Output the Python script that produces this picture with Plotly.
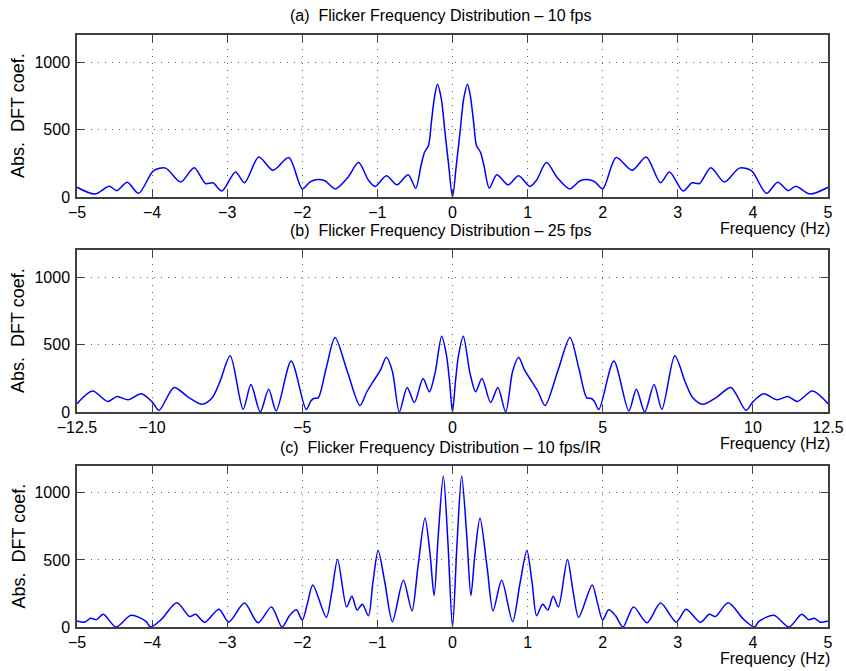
import plotly.graph_objects as go

# ---------------- data ----------------
# (a) 10 fps
freq_a = [-5.00, -4.76, -4.57, -4.47, -4.33, -4.18, -3.98, -3.82, -3.62, -3.44, -3.29, -3.19,
          -3.07, -2.89, -2.77, -2.58, -2.39, -2.18, -2.00, -1.90, -1.82, -1.70, -1.56, -1.40,
          -1.25, -1.12, -1.03, -0.88, -0.74, -0.59, -0.49, -0.42, -0.37, -0.32, -0.28, -0.24,
          -0.20, -0.15, -0.10, -0.05, 0.00,
          0.05, 0.10, 0.15, 0.20, 0.24, 0.28, 0.32, 0.37, 0.42, 0.49, 0.59, 0.74, 0.88, 1.03,
          1.12, 1.25, 1.40, 1.56, 1.70, 1.82, 1.90, 2.00, 2.18, 2.39, 2.58, 2.77, 2.89, 3.07,
          3.19, 3.29, 3.44, 3.62, 3.82, 3.98, 4.18, 4.33, 4.47, 4.57, 4.76, 5.00]
dft_a = [72, 22, 80, 47, 110, 27, 195, 214, 111, 217, 100, 105,
         44, 185, 105, 296, 198, 292, 60, 110, 128, 120, 60, 140,
         255, 125, 78, 158, 90, 165, 65, 230, 335, 380, 560, 740,
         835, 730, 480, 230, 0,
         230, 480, 730, 835, 740, 560, 380, 335, 230, 65, 165, 90, 158, 78,
         125, 255, 140, 60, 120, 128, 110, 60, 292, 198, 296, 105, 185, 44,
         105, 100, 217, 111, 214, 195, 27, 110, 47, 80, 22, 72]

# (b) 25 fps
freq_b = [-12.50, -11.98, -11.48, -11.16, -10.80, -10.36, -10.00, -9.77, -9.27, -8.80, -8.33,
          -8.00, -7.75, -7.40, -6.97, -6.71, -6.40, -6.12, -5.87, -5.37, -4.87, -4.72, -4.62,
          -4.47, -4.20, -3.91, -3.50, -3.08, -2.85, -2.64, -2.40, -2.20, -2.00, -1.77, -1.51,
          -1.27, -0.98, -0.77, -0.58, -0.36, -0.20, -0.10, 0.00,
          0.10, 0.20, 0.36, 0.58, 0.77, 0.98, 1.27, 1.51, 1.77, 2.00, 2.20, 2.40, 2.64, 2.85,
          3.08, 3.50, 3.91, 4.20, 4.47, 4.62, 4.72, 4.87, 5.37, 5.87, 6.12, 6.40, 6.71, 6.97,
          7.40, 7.75, 8.00, 8.33, 8.80, 9.27, 9.77, 10.00, 10.36, 10.80, 11.16, 11.48, 11.98, 12.50]
dft_b = [62, 155, 78, 115, 90, 135, 75, 12, 182, 110, 57,
         105, 220, 416, 20, 204, 0, 168, 8, 377, 18, 80, 100,
         105, 330, 552, 300, 48, 150, 225, 310, 405, 300, 0, 182,
         70, 248, 150, 290, 562, 420, 230, 0,
         230, 420, 562, 290, 150, 248, 70, 182, 0, 300, 405, 310, 225, 150,
         48, 300, 552, 330, 105, 100, 80, 18, 377, 8, 168, 0, 204, 20,
         416, 220, 105, 57, 110, 182, 12, 75, 135, 90, 115, 78, 155, 62]

# (c) 10 fps/IR
freq_c = [-5.00, -4.90, -4.82, -4.74, -4.65, -4.48, -4.28, -4.08, -4.02, -3.88, -3.67, -3.50,
          -3.42, -3.30, -3.11, -2.98, -2.77, -2.59, -2.41, -2.27, -2.17, -2.08, -2.00, -1.93,
          -1.86, -1.68, -1.61, -1.53, -1.41, -1.34, -1.27, -1.20, -1.12, -1.06, -0.99, -0.90,
          -0.80, -0.655, -0.54, -0.46, -0.366, -0.30, -0.245, -0.19, -0.122, -0.06, 0.00,
          0.06, 0.122, 0.19, 0.245, 0.30, 0.366, 0.46, 0.54, 0.655, 0.80, 0.90, 0.99, 1.06,
          1.12, 1.20, 1.27, 1.34, 1.41, 1.53, 1.61, 1.68, 1.86, 1.93, 2.00, 2.08, 2.17, 2.27,
          2.41, 2.59, 2.77, 2.98, 3.11, 3.30, 3.42, 3.50, 3.67, 3.88, 4.02, 4.08, 4.28, 4.48,
          4.65, 4.74, 4.82, 4.90, 5.00]
dft_c = [45, 35, 65, 55, 95, 0, 88, 42, 0, 55, 180, 78,
         95, 35, 133, 38, 178, 32, 150, 0, 85, 128, 52, 180,
         313, 72, 250, 504, 150, 230, 127, 170, 84, 330, 570, 330,
         40, 348, 121, 450, 812, 550, 235, 680, 1126, 620, 0,
         620, 1126, 680, 235, 550, 812, 450, 121, 348, 40, 330, 570, 330,
         84, 170, 127, 230, 150, 504, 250, 72, 313, 180, 52, 128, 85, 0,
         150, 32, 178, 38, 133, 35, 95, 78, 180, 55, 0, 42, 88, 0,
         95, 55, 65, 35, 45]

ticks_a = [-5, -4, -3, -2, -1, 0, 1, 2, 3, 4, 5]
ticks_b = [-12.5, -10, -5, 0, 5, 10, 12.5]
ticks_c = [-5, -4, -3, -2, -1, 0, 1, 2, 3, 4, 5]
ticks_y = [0, 500, 1000]

titles = ["(a)  Flicker Frequency Distribution \u2013 10 fps",
          "(b)  Flicker Frequency Distribution \u2013 25 fps",
          "(c)  Flicker Frequency Distribution \u2013 10 fps/IR"]
y_label = "Abs.  DFT coef."
x_label = "Frequency (Hz)"

# ---------------- figure ----------------
W, H = 846, 671
FONT = "Liberation Sans, Arial, Helvetica, sans-serif"
AX = "#404040"

fig = go.Figure()
series = [(freq_a, dft_a), (freq_b, dft_b), (freq_c, dft_c)]
for i, (fx, fy) in enumerate(series):
    sfx = "" if i == 0 else str(i + 1)
    fig.add_trace(go.Scatter(x=fx, y=fy, mode="lines",
                             line=dict(color="#0000ff", width=1.5, shape="spline", smoothing=0.8),
                             xaxis="x" + sfx, yaxis="y" + sfx, hoverinfo="skip",
                             showlegend=False))

# plot area pixel boxes (top, bottom)
boxes = [(35, 197), (250, 412), (466, 627)]
x0, x1 = 77, 828
xranges = [[-5, 5], [-12.5, 12.5], [-5, 5]]
xticks = [ticks_a, ticks_b, ticks_c]

layout = dict(width=W, height=H, margin=dict(l=0, r=0, t=0, b=0, pad=0),
              autosize=False,
              paper_bgcolor="white", plot_bgcolor="white",
              font=dict(family=FONT, color="black"))
annotations = []
for i, (top, bot) in enumerate(boxes):
    sfx = "" if i == 0 else str(i + 1)
    common = dict(showline=True, linecolor=AX, linewidth=1.5, mirror="ticks",
                  ticks="inside", ticklen=7, tickwidth=1, tickcolor=AX,
                  showgrid=True, gridcolor="#606060", gridwidth=1, griddash="1px,6px",
                  zeroline=False, automargin=False,
                  tickfont=dict(family=FONT, size=16, color="black"))
    layout["xaxis" + sfx] = dict(common, domain=[x0 / W, x1 / W], range=xranges[i],
                                 tickvals=xticks[i], anchor="y" + sfx,
                                 ticklabelstandoff=0)
    layout["yaxis" + sfx] = dict(common, domain=[1 - bot / H, 1 - top / H], range=[0, 1200],
                                 tickvals=ticks_y, anchor="x" + sfx,
                                 ticklabelstandoff=2)
    mid = (top + bot) / 2
    annotations.append(dict(text=titles[i], xref="paper", yref="paper",
                            x=440 / W, y=1 - (top - 19) / H, xanchor="center", yanchor="middle",
                            showarrow=False, font=dict(family=FONT, size=16, color="black")))
    annotations.append(dict(text=y_label, xref="paper", yref="paper", textangle=-90,
                            x=18 / W, y=1 - mid / H, xanchor="center", yanchor="middle",
                            showarrow=False, font=dict(family=FONT, size=18, color="black")))
    annotations.append(dict(text=x_label, xref="paper", yref="paper",
                            x=832 / W, y=1 - (bot + 31) / H, xanchor="right", yanchor="middle",
                            showarrow=False, font=dict(family=FONT, size=16, color="black")))
layout["annotations"] = annotations
fig.update_layout(**layout)

fig.write_html("out.html")
